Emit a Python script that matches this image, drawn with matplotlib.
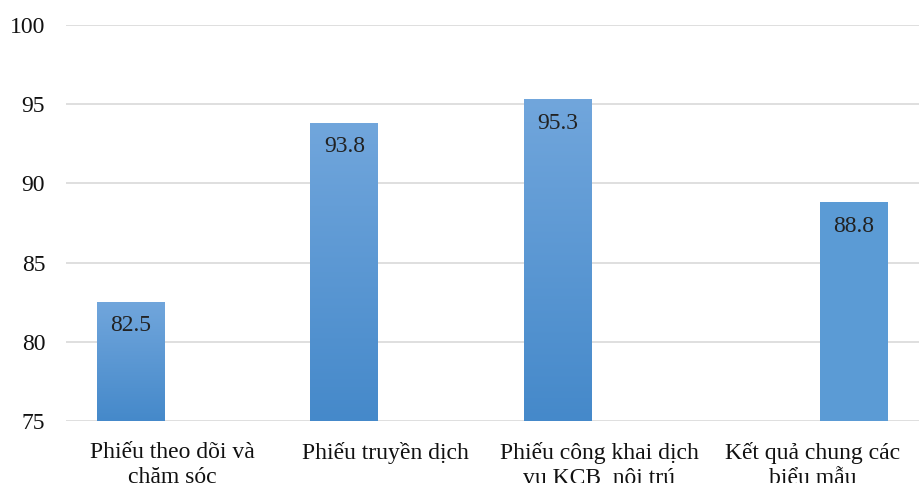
import matplotlib
matplotlib.use("Agg")
import matplotlib.pyplot as plt
import numpy as np
from matplotlib.colors import LinearSegmentedColormap

categories = [
    "Phiếu theo dõi và\nchăm sóc",
    "Phiếu truyền dịch",
    "Phiếu công khai dịch\nvụ KCB  nội trú",
    "Kết quả chung các\nbiểu mẫu",
]
forms = [82.5, 93.8, 95.3, np.nan]
overall = [np.nan, np.nan, np.nan, 88.8]
yticks = [75, 80, 85, 90, 95, 100]

plt.rcParams["font.family"] = ["Liberation Serif", "DejaVu Serif"]

fig = plt.figure(figsize=(9.19, 4.83), dpi=100)
ax = fig.add_axes([0.0718, 0.1284, 0.9282, 0.8198])

x = np.arange(len(categories))
width = 0.318
offset = 0.195
grad = LinearSegmentedColormap.from_list("g", ["#4589ca", "#71a6dc"])

bars_a = ax.bar(x - offset, forms, width, color="#5b9bd5", zorder=3)
bars_b = ax.bar(x + offset, overall, width, color="#5b9bd5", zorder=3)

ax.set_ylim(75, 100)
ax.set_xlim(-0.5, len(categories) - 0.5)

# vertical gradient fill for the first series
for bar in bars_a:
    h = bar.get_height()
    if np.isnan(h):
        continue
    x0 = bar.get_x()
    img = ax.imshow(
        np.linspace(0, 1, 256).reshape(-1, 1),
        cmap=grad,
        origin="lower",
        aspect="auto",
        extent=[x0, x0 + bar.get_width(), 75, h],
        zorder=4,
    )
    img.set_clip_path(bar)
ax.set_xlim(-0.5, len(categories) - 0.5)
ax.set_ylim(75, 100)

for bar in list(bars_a) + list(bars_b):
    h = bar.get_height()
    if np.isnan(h):
        continue
    ax.annotate(
        f"{h:.1f}",
        (bar.get_x() + bar.get_width() / 2, h),
        xytext=(0, -17),
        textcoords="offset points",
        ha="center",
        va="center",
        fontsize=17,
        color="#222222",
        zorder=5,
    )

ax.set_yticks(yticks)
ax.set_xticks(x)
ax.set_xticklabels(categories, fontsize=17, linespacing=1.25, color="#111111")
ax.tick_params(axis="y", length=0, pad=15, labelsize=17, labelcolor="#111111")
ax.tick_params(axis="x", length=0, pad=15)
ax.grid(axis="y", color="#d9d9d9", linewidth=1.2, zorder=0)
for spine in ax.spines.values():
    spine.set_visible(False)

fig.savefig("out.png", dpi=100)
